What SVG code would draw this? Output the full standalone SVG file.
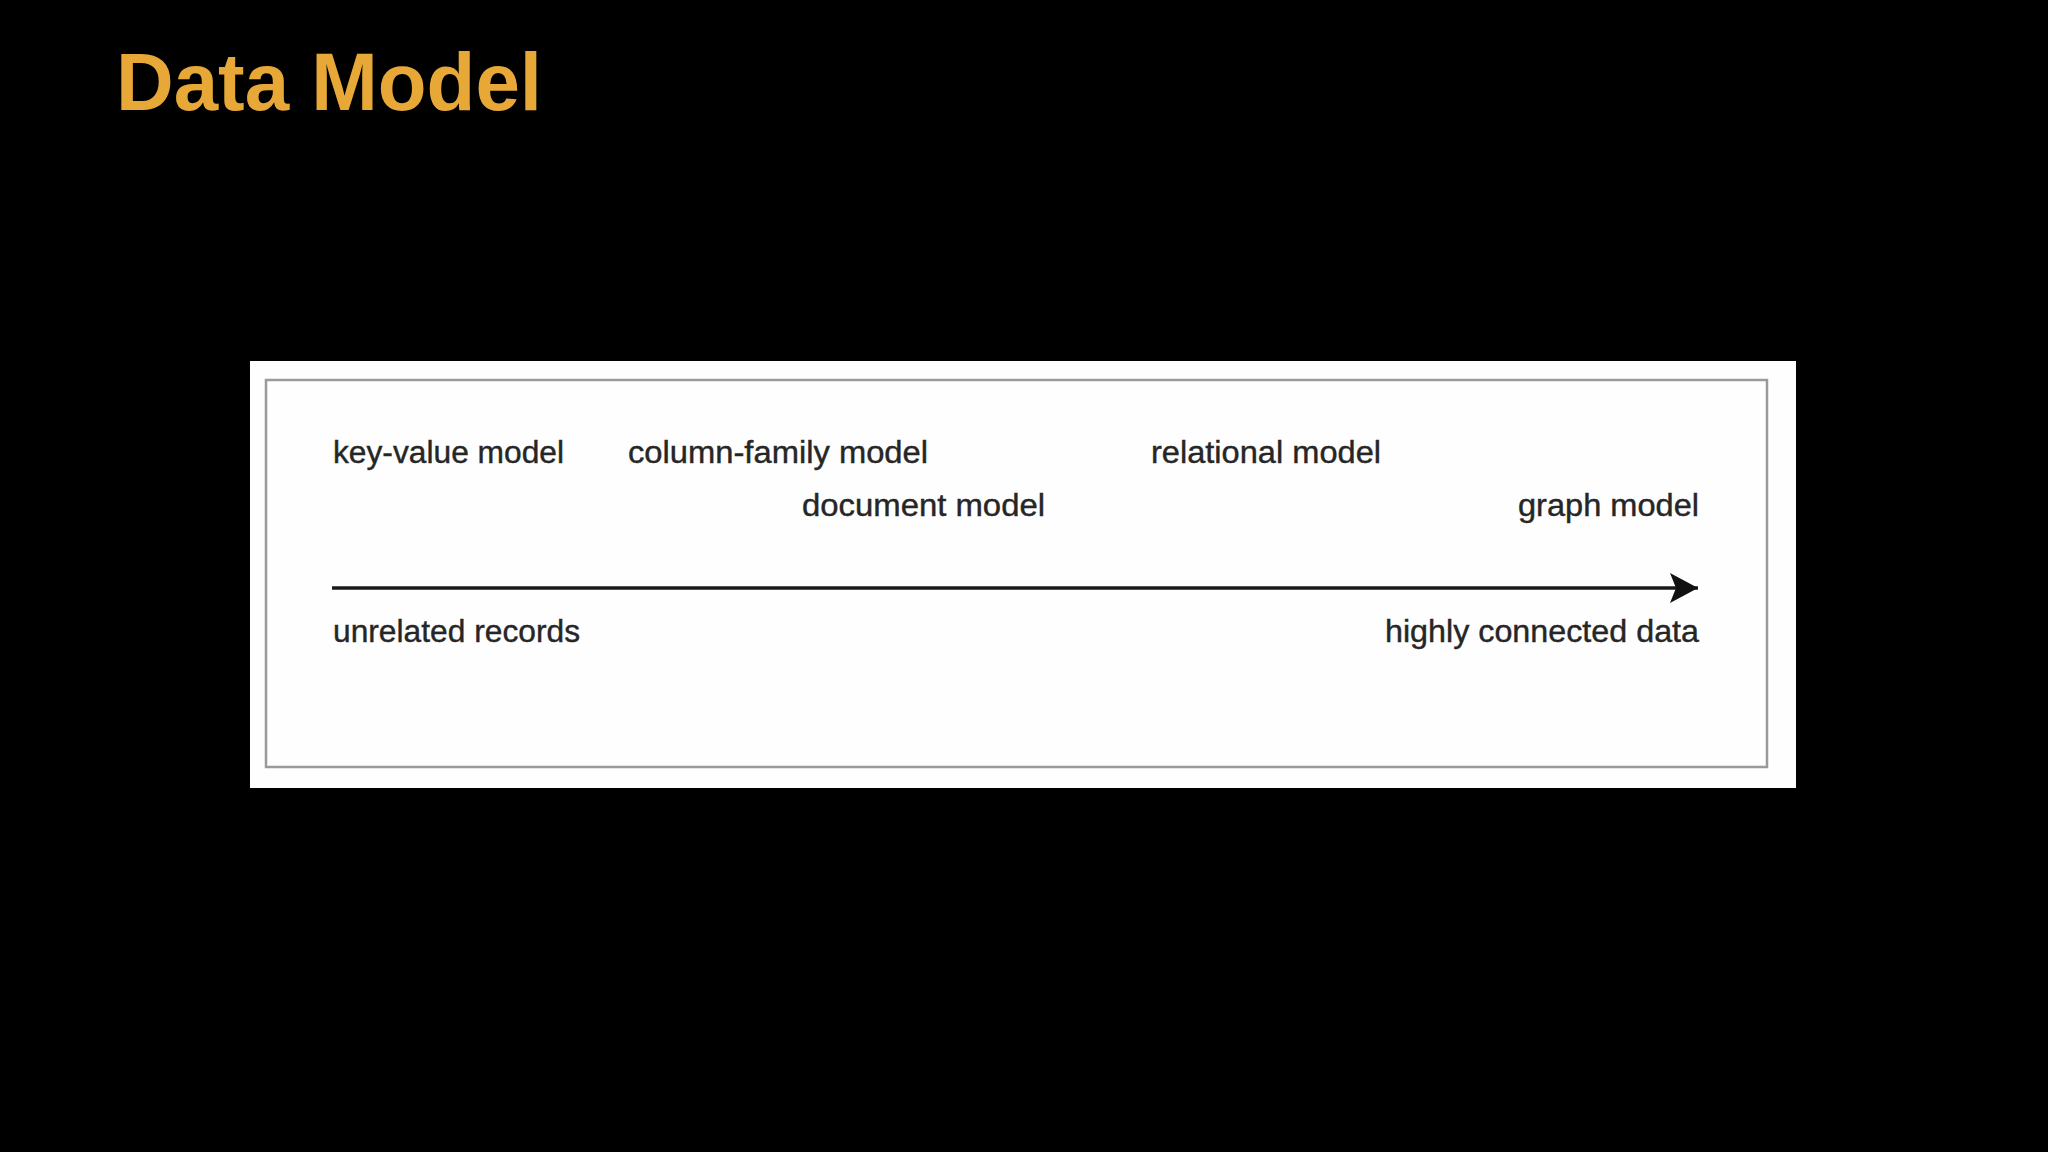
<svg xmlns="http://www.w3.org/2000/svg" width="2048" height="1152" viewBox="0 0 2048 1152">
  <style>
    .title { font-family: "Liberation Sans", Arial, sans-serif; font-weight: bold; font-size: 81px; fill: #E8A838; }
    .lbl { font-family: "Liberation Sans", Arial, sans-serif; font-size: 31px; fill: #262626; stroke: #262626; stroke-width: 0.4px; }
  </style>
  <defs>
    <marker id="arrowhead" markerUnits="userSpaceOnUse" markerWidth="32" markerHeight="34" refX="30" refY="17" orient="auto">
      <path d="M2,2 L30,17 L2,32 L8,17 Z" fill="#111"/>
    </marker>
  </defs>
  <rect x="0" y="0" width="2048" height="1152" fill="#000"/>
  <g id="title">
    <text class="title" x="116" y="110" textLength="426" lengthAdjust="spacingAndGlyphs">Data Model</text>
  </g>
  <g id="panel">
    <rect x="250" y="361" width="1546" height="427" fill="#fefefe"/>
    <rect x="266" y="380" width="1501" height="387" fill="none" stroke="#9a9a9a" stroke-width="2.5"/>
  </g>
  <g id="connectors">
    <line x1="332" y1="588" x2="1698" y2="588" stroke="#1a1a1a" stroke-width="3.5" marker-end="url(#arrowhead)"/>
  </g>
  <g id="key-value">
    <text class="lbl" x="333" y="463" textLength="231" lengthAdjust="spacingAndGlyphs">key-value model</text>
  </g>
  <g id="column-family">
    <text class="lbl" x="628" y="463" textLength="300" lengthAdjust="spacingAndGlyphs">column-family model</text>
  </g>
  <g id="document">
    <text class="lbl" x="802" y="516" textLength="243" lengthAdjust="spacingAndGlyphs">document model</text>
  </g>
  <g id="relational">
    <text class="lbl" x="1151" y="463" textLength="230" lengthAdjust="spacingAndGlyphs">relational model</text>
  </g>
  <g id="graph">
    <text class="lbl" x="1518" y="516" textLength="181" lengthAdjust="spacingAndGlyphs">graph model</text>
  </g>
  <g id="unrelated">
    <text class="lbl" x="333" y="642" textLength="247" lengthAdjust="spacingAndGlyphs">unrelated records</text>
  </g>
  <g id="highly-connected">
    <text class="lbl" x="1385" y="642" textLength="314" lengthAdjust="spacingAndGlyphs">highly connected data</text>
  </g>
</svg>
